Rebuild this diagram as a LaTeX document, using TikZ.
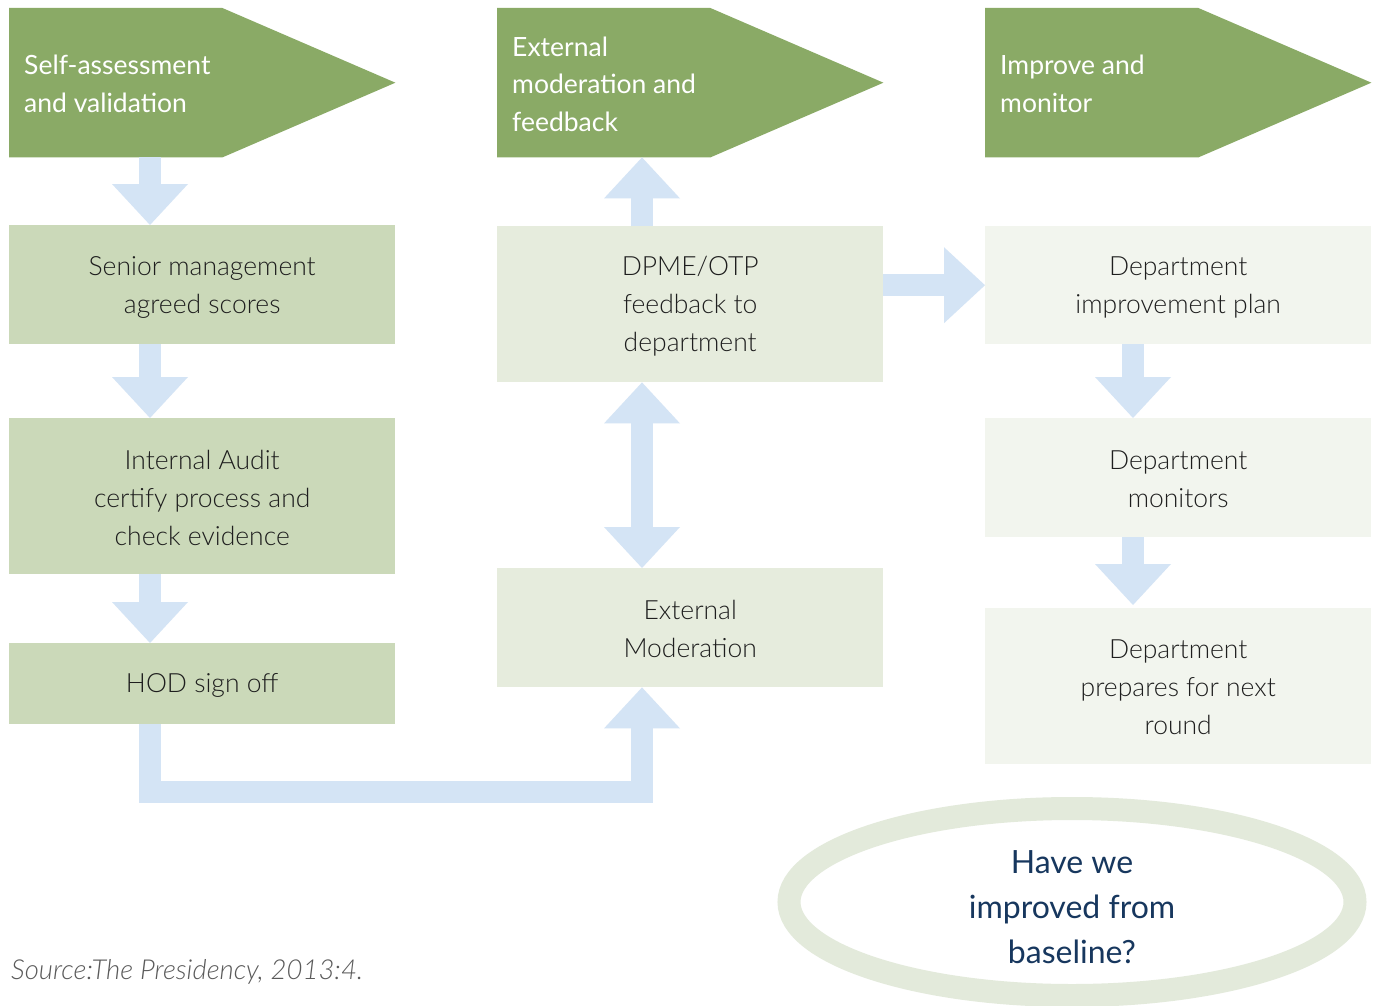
\documentclass[tikz,border=0pt]{standalone}
\usepackage{fontspec}
\setmainfont{Lato}
\newfontfamily\lightfont{Lato Light}
\usetikzlibrary{arrows.meta,calc,shapes.geometric}
\definecolor{hdrgreen}{HTML}{8AAA66}
\definecolor{boxA}{HTML}{CBD9B9}
\definecolor{boxB}{HTML}{E6ECDD}
\definecolor{boxC}{HTML}{F2F5EE}
\definecolor{arrowblue}{HTML}{D4E4F5}
\definecolor{ringgreen}{HTML}{E3EADB}
\definecolor{navy}{HTML}{17375E}
\definecolor{txt}{HTML}{1E1E1E}
\definecolor{srcgray}{HTML}{5A5A5A}
\tikzset{
  bigtip/.tip={Triangle[width=76pt,length=41pt,line width=0pt]},
  hdr/.style={rectangle, anchor=north west, inner sep=0pt, minimum width=213pt, minimum height=149pt},
  hdrtext/.style={anchor=west, inner sep=0pt, text=white, align=left, font=\fontsize{26.5}{37.5}\selectfont},
  stagebox/.style={rectangle, anchor=north west, inner sep=0pt, text=txt, align=center, minimum width=386pt, font=\lightfont\fontsize{26.5}{38}\selectfont},
  stagetext/.style={inner sep=0pt, text=txt, align=center, font=\lightfont\fontsize{26.5}{38}\selectfont},
  blockarrow/.style={draw=arrowblue, line width=22pt, line cap=butt, line join=miter, -bigtip},
}
\begin{document}
\begin{tikzpicture}[x=1pt,y=-1pt]
\useasboundingbox (0,0) rectangle (1376,1006);
\fill[white] (0,0) rectangle (1376,1006);

% column x coordinates for arrows
\coordinate (c1) at (150,0);
\coordinate (c2) at (642,0);
\coordinate (c3) at (1133,0);
\coordinate (lb) at (150,792);

% headers
\node[hdr] (h1) at (9,8) {};
\fill[hdrgreen] (h1.north west) -- (h1.north east) -- ($(h1.east)+(173,0)$) -- (h1.south east) -- (h1.south west) -- cycle;
\node[hdrtext] (h1t) at (24,84) {Self-assessment\\and validation};

\node[hdr] (h2) at (497,8) {};
\fill[hdrgreen] (h2.north west) -- (h2.north east) -- ($(h2.east)+(173,0)$) -- (h2.south east) -- (h2.south west) -- cycle;
\node[hdrtext] (h2t) at (512,84) {External\\moderation and\\feedback};

\node[hdr] (h3) at (985,8) {};
\fill[hdrgreen] (h3.north west) -- (h3.north east) -- ($(h3.east)+(173,0)$) -- (h3.south east) -- (h3.south west) -- cycle;
\node[hdrtext] (h3t) at (1000,84) {Improve and\\monitor};

% column 1
\node[stagebox, fill=boxA, minimum height=119pt] (sm) at (9,225) {};
\node[stagetext] at ($(sm.center)+(0,3)$) {Senior management\\agreed scores};
\node[stagebox, fill=boxA, minimum height=156pt] (ia) at (9,418) {};
\node[stagetext] at ($(ia.center)+(0,2)$) {Internal Audit\\certify process and\\check evidence};
\node[stagebox, fill=boxA, minimum height=81pt] (hod) at (9,643) {};
\node[stagetext] at ($(hod.center)+(0,2)$) {HOD sign off};

% column 2
\node[stagebox, fill=boxB, minimum height=156pt] (dpme) at (497,226) {};
\node[stagetext] at ($(dpme.center)+(0,2)$) {DPME/OTP\\feedback to\\department};
\node[stagebox, fill=boxB, minimum height=119pt] (em) at (497,568) {};
\node[stagetext] at ($(em.center)+(0,1)$) {External\\Moderation};

% column 3
\node[stagebox, fill=boxC, minimum height=118pt] (dip) at (985,226) {};
\node[stagetext] at ($(dip.center)+(0,2)$) {Department\\improvement plan};
\node[stagebox, fill=boxC, minimum height=119pt] (dmon) at (985,418) {};
\node[stagetext] at ($(dmon.center)+(0,2)$) {Department\\monitors};
\node[stagebox, fill=boxC, minimum height=156pt] (dprep) at (985,608) {};
\node[stagetext] at ($(dprep.center)+(0,1)$) {Department\\prepares for next\\round};

% arrows column 1
\draw[blockarrow] (h1.south -| c1) -- (sm.north -| c1);
\draw[blockarrow] (sm.south -| c1) -- (ia.north -| c1);
\draw[blockarrow] (ia.south -| c1) -- (hod.north -| c1);
\draw[blockarrow, shorten >=-6pt] (hod.south -| c1) -- (lb) -- (lb -| c2) -- ($(em.south -| c2)+(0,6)$);

% arrows column 2
\draw[blockarrow] (dpme.north -| c2) -- (h2.south -| c2);
\draw[blockarrow, bigtip-bigtip] (dpme.south -| c2) -- (em.north -| c2);
\draw[blockarrow] (dpme.east |- dip.west) -- (dip.west);

% arrows column 3
\draw[blockarrow] (dip.south -| c3) -- (dmon.north -| c3);
\draw[blockarrow, shorten >=3pt] (dmon.south -| c3) -- (dprep.north -| c3);

% ellipse
\node[ellipse, draw=ringgreen, line width=23pt, minimum width=566pt, minimum height=187pt, inner sep=0pt] (q) at (1072,902) {};
\node[text=navy, align=center, inner sep=0pt, font=\fontsize{32}{45}\selectfont] (qt) at (1072,907) {Have we\\improved from\\baseline?};

% source
\node[anchor=west, inner sep=0pt, text=srcgray, font=\lightfont\fontsize{27.5}{30}\itshape] (src) at (11,972) {Source:The Presidency, 2013:4.};
\end{tikzpicture}
\end{document}
